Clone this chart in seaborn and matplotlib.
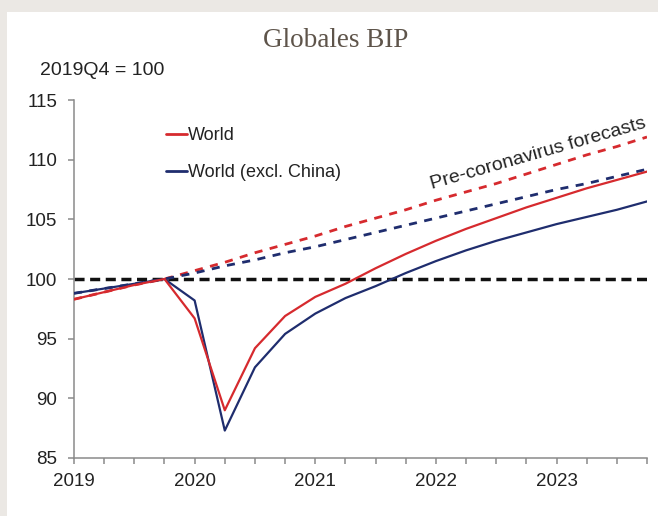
import matplotlib
matplotlib.use("Agg")
import matplotlib.pyplot as plt
import matplotlib.patches as mpatches
import seaborn as sns
import numpy as np
import pandas as pd

# ---- data (quarterly index, 2019Q4 = 100) ----
quarters = ["2019Q1", "2019Q2", "2019Q3", "2019Q4",
            "2020Q1", "2020Q2", "2020Q3", "2020Q4",
            "2021Q1", "2021Q2", "2021Q3", "2021Q4",
            "2022Q1", "2022Q2", "2022Q3", "2022Q4",
            "2023Q1", "2023Q2", "2023Q3", "2023Q4"]
world = [98.3, 98.9, 99.5, 100.0, 96.7, 89.0, 94.2, 96.9, 98.5, 99.6,
         100.9, 102.1, 103.2, 104.2, 105.1, 106.0, 106.8, 107.6, 108.3, 109.0]
world_ex_china = [98.8, 99.2, 99.6, 100.0, 98.2, 87.3, 92.6, 95.4, 97.1, 98.4,
                  99.4, 100.5, 101.5, 102.4, 103.2, 103.9, 104.6, 105.2, 105.8, 106.5]
world_pre = [98.3, 98.9, 99.5, 100.0, 100.7, 101.4, 102.2, 102.9, 103.6, 104.4,
             105.1, 105.8, 106.6, 107.3, 108.0, 108.8, 109.6, 110.4, 111.1, 111.9]
world_ex_china_pre = [98.8, 99.2, 99.6, 100.0, 100.5, 101.1, 101.6, 102.2, 102.7, 103.3,
                      103.9, 104.5, 105.1, 105.7, 106.3, 106.9, 107.5, 108.0, 108.6, 109.2]
baseline = [100.0] * len(quarters)
year_labels = ["2019", "2020", "2021", "2022", "2023"]
y_ticks = [85, 90, 95, 100, 105, 110, 115]

title = "Globales BIP"
unit_label = "2019Q4 = 100"
annotation = "Pre-coronavirus forecasts"

RED = "#d62a2e"
BLUE = "#1f2d6e"

sns.set_theme(style="white")
plt.rcParams["font.family"] = ["Liberation Sans", "DejaVu Sans"]

x = np.arange(len(quarters))
df = pd.DataFrame({"q": x, "world": world, "wex": world_ex_china,
                   "wpre": world_pre, "wexpre": world_ex_china_pre, "base": baseline})

fig = plt.figure(figsize=(6.58, 5.16), dpi=100)
fig.patch.set_facecolor("white")
# page background strips (left / top)
fig.patches.append(mpatches.Rectangle((0, 0), 7 / 658, 1, transform=fig.transFigure,
                                      facecolor="#ebe8e4", edgecolor="none", zorder=0))
fig.patches.append(mpatches.Rectangle((0, 1 - 12 / 516), 1, 12 / 516, transform=fig.transFigure,
                                      facecolor="#ebe8e4", edgecolor="none", zorder=0))

ax = fig.add_axes([74 / 658, 1 - 458 / 516, 573 / 658, 358 / 516])
ax.set_facecolor("none")

sns.lineplot(data=df, x="q", y="base", ax=ax, color="#111111", lw=2.5, zorder=2, legend=False)
ax.lines[-1].set_dashes((2.9, 1.6))
sns.lineplot(data=df, x="q", y="wpre", ax=ax, color=RED, lw=2.0, zorder=3, legend=False)
ax.lines[-1].set_dashes((2.9, 2.7))
sns.lineplot(data=df, x="q", y="wexpre", ax=ax, color=BLUE, lw=2.0, zorder=3, legend=False)
ax.lines[-1].set_dashes((2.9, 2.7))
sns.lineplot(data=df, x="q", y="wex", ax=ax, color=BLUE, lw=1.6, zorder=4, legend=False)
h_blue = ax.lines[-1]
sns.lineplot(data=df, x="q", y="world", ax=ax, color=RED, lw=1.6, zorder=5, legend=False)
h_red = ax.lines[-1]

ax.set_xlim(0, len(quarters) - 1)
ax.set_ylim(85, 115)
ax.set_xticks(x)
ax.set_xticklabels([year_labels[i // 4] if i % 4 == 0 else "" for i in x])
ax.set_yticks(y_ticks)
ax.set_yticklabels([str(v) for v in y_ticks])
ax.set_xlabel("")
ax.set_ylabel("")

for side in ["top", "right"]:
    ax.spines[side].set_visible(False)
for side in ["left", "bottom"]:
    ax.spines[side].set_color("#8a8a8a")
    ax.spines[side].set_linewidth(1.1)
ax.tick_params(axis="both", which="both", direction="out", length=4.5, width=1.1,
               color="#8a8a8a", labelsize=13.5, labelcolor="#222222")
ax.tick_params(axis="y", pad=7.5)
ax.tick_params(axis="x", pad=6)
ax.tick_params(left=True, bottom=True)

leg = ax.legend([h_red, h_blue], ["World", "World (excl. China)"],
                loc="upper left", bbox_to_anchor=(0.1606, 0.924), frameon=False,
                borderpad=0, handlelength=1.17, handletextpad=0.05, labelspacing=1.1,
                fontsize=13, borderaxespad=0)
for t in leg.get_texts():
    t.set_color("#222222")
for lh in leg.get_lines():
    lh.set_linewidth(2.0)

ax.text(15.4, 110.5, annotation, rotation=16, rotation_mode="anchor",
        ha="center", va="center", fontsize=14, color="#222222")

fig.text(336 / 658, 1 - 47 / 516, title, ha="center", va="baseline",
         fontsize=19.5, color="#5e544a", family=["Liberation Serif", "DejaVu Serif"])
fig.text(40 / 658, 1 - 75 / 516, unit_label, ha="left", va="baseline",
         fontsize=14, color="#222222")

fig.savefig("out.png", dpi=100, facecolor="white")
